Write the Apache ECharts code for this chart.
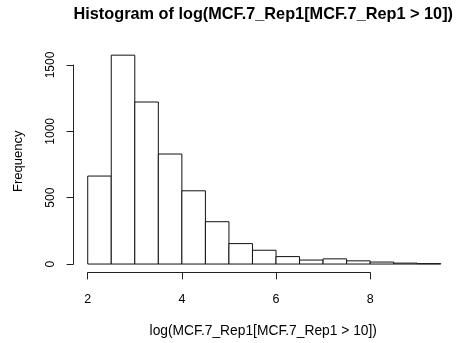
<!DOCTYPE html>
<html>
<head>
<meta charset="utf-8">
<script src="https://cdn.jsdelivr.net/npm/echarts@6/dist/echarts.min.js"></script>
<style>
  html, body { margin: 0; padding: 0; background: #fff; }
  #chart { width: 459px; height: 343px; }
</style>
</head>
<body>
<div id="chart"></div>
<script>
// histogram bins (left edge, right edge) and counts
const binStarts = [2, 2.5, 3, 3.5, 4, 4.5, 5, 5.5, 6, 6.5, 7, 7.5, 8, 8.5, 9];
const binEnds = [2.5, 3, 3.5, 4, 4.5, 5, 5.5, 6, 6.5, 7, 7.5, 8, 8.5, 9, 9.5];
const counts = [663, 1574, 1221, 829, 552, 319, 154, 104, 56, 30, 39, 24, 15, 7, 3];
const xTicks = [2, 4, 6, 8];
const yTicks = [0, 500, 1000, 1500];

const chart = echarts.init(document.getElementById("chart"), null, { renderer: "canvas" });

const font = "Liberation Sans, Arial, Helvetica, sans-serif";
const ink = "#222";

// R plot region: x 1.7..9.8, y -63..1643
const plotLeft = 73.6;
const plotTop = 46;
const plotW = 381.3;
const plotH = 226.4;
const pxPerX = plotW / (9.8 - 1.7);
const pxPerY = plotH / (1643 + 63);

const xAxisLeft = plotLeft + (xTicks[0] - 1.7) * pxPerX;
const xAxisW = (xTicks[xTicks.length - 1] - xTicks[0]) * pxPerX;
const yAxisBottom = plotTop + plotH - (yTicks[0] + 63) * pxPerY;
const yAxisH = (yTicks[yTicks.length - 1] - yTicks[0]) * pxPerY;

const data = binStarts.map((s, i) => [s, binEnds[i], counts[i]]);

chart.setOption({
  animation: false,
  backgroundColor: "#fff",
  grid: [
    { left: plotLeft, top: plotTop, width: plotW, height: plotH },
    { left: xAxisLeft, top: plotTop, width: xAxisW, height: plotH },
    { left: plotLeft, top: yAxisBottom - yAxisH, width: plotW, height: yAxisH },
  ],
  xAxis: [
    { gridIndex: 0, type: "value", min: 1.7, max: 9.8, show: false },
    {
      gridIndex: 1,
      type: "value",
      position: "bottom",
      min: xTicks[0],
      max: xTicks[xTicks.length - 1],
      interval: 2,
      splitLine: { show: false },
      axisLine: { show: true, lineStyle: { color: ink, width: 1 } },
      axisTick: { show: true, length: 7, lineStyle: { color: ink } },
      axisLabel: { margin: 21, color: "#000", fontFamily: font, fontSize: 12.5 },
    },
    { gridIndex: 2, type: "value", show: false },
  ],
  yAxis: [
    { gridIndex: 0, type: "value", min: -63, max: 1643, show: false },
    { gridIndex: 1, type: "value", show: false },
    {
      gridIndex: 2,
      type: "value",
      position: "left",
      min: yTicks[0],
      max: yTicks[yTicks.length - 1],
      interval: 500,
      splitLine: { show: false },
      axisLine: { show: true, lineStyle: { color: ink, width: 1 } },
      axisTick: { show: true, length: 7, lineStyle: { color: ink } },
      axisLabel: {
        rotate: 90, margin: 17, color: "#000", fontFamily: font, fontSize: 12,
        verticalAlign: "bottom", align: "center",
        formatter: (v) => String(v),
      },
    },
  ],
  graphic: [
    {
      type: "text",
      x: plotLeft + plotW / 2 - 1,
      y: 15,
      style: {
        text: "Histogram of log(MCF.7_Rep1[MCF.7_Rep1 > 10])", fill: "#000",
        font: "bold 16.3px " + font, textAlign: "center", textVerticalAlign: "middle",
      },
    },
    {
      type: "text",
      x: 18.5,
      y: plotTop + plotH / 2 + 2,
      rotation: Math.PI / 2,
      style: { text: "Frequency", fill: "#000", font: "13px " + font, textAlign: "center", textVerticalAlign: "middle" },
    },
    {
      type: "text",
      x: plotLeft + plotW / 2 - 1,
      y: 331,
      style: {
        text: "log(MCF.7_Rep1[MCF.7_Rep1 > 10])", fill: "#000",
        font: "13.8px " + font, textAlign: "center", textVerticalAlign: "middle",
      },
    },
  ],
  series: [
    {
      type: "custom",
      xAxisIndex: 0,
      yAxisIndex: 0,
      data: data,
      encode: { x: [0, 1], y: 2 },
      renderItem: (params, api) => {
        const p0 = api.coord([api.value(0), 0]);
        const p1 = api.coord([api.value(1), api.value(2)]);
        return {
          type: "rect",
          shape: { x: p0[0], y: p1[1], width: p1[0] - p0[0], height: p0[1] - p1[1] },
          style: { fill: "#fff", stroke: "#111", lineWidth: 1 },
        };
      },
    },
  ],
});
</script>
</body>
</html>
